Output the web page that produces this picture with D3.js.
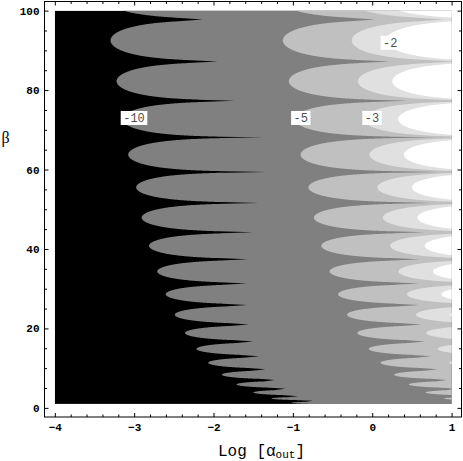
<!DOCTYPE html>
<html><head><meta charset="utf-8">
<script src="https://cdn.jsdelivr.net/npm/d3@7"></script>
<style>body{margin:0;background:#fff}</style>
</head><body><svg id="c" width="463" height="461"></svg>
<script>
// β positions of the spikes (zeros between lobes), ascending
const zerosBeta = [0.8, 1.76, 2.95, 4.8, 7.0, 9.7, 13.0, 16.7, 21.0, 25.9, 31.3, 37.4, 44.2, 51.6, 59.4, 68.1, 77.3, 87.2, 97.8, 108.9];
// Log[α] where each spike of the -10 contour ends
const spikeReach = [-0.6, -0.748, -0.933, -1.092, -1.227, -1.344, -1.425, -1.501, -1.555, -1.576, -1.580, -1.567, -1.504, -1.429, -1.328, -1.378, -1.731, -1.946, -2.135, -2.3];
// Log[α] of the leftmost tip of each lobe of the -10 contour (lobe i between zeros i and i+1)
const lobeTip = [-1.017, -1.269, -1.498, -1.710, -1.895, -2.067, -2.215, -2.359, -2.488, -2.602, -2.709, -2.813, -2.906, -2.975, -3.075, -3.149, -3.222, -3.298, -3.370];
const levels = [-10, -5, -3, -2];
const levelFills = ["#808080", "#c0c0c0", "#e0e0e0", "#ffffff"];
const belowFill = "#000000";
const labelText = ["-10", "-5", "-3", "-2"];
const labelX = [-3.002, -0.900, -0.003, 0.228];
const labelBeta = [72.98, 72.98, 72.98, 91.93];
const xTicks = [-4, -3, -2, -1, 0, 1];
const yTicks = [0, 20, 40, 60, 80, 100];
const dataX = [-4, 1];
const dataBeta = [1, 100];

const svg = d3.select("#c");
const x = d3.scaleLinear([-4.13, 1.125], [44.5, 461.5]);
const y = d3.scaleLinear([-2.3, 102.3], [417, 1.5]);

svg.append("defs").append("clipPath").attr("id", "dc").append("rect")
  .attr("x", x(dataX[0])).attr("y", y(dataBeta[1]))
  .attr("width", x(dataX[1]) - x(dataX[0])).attr("height", y(dataBeta[0]) - y(dataBeta[1]));

const plot = svg.append("g").attr("clip-path", "url(#dc)");
plot.append("rect")
  .attr("x", x(dataX[0])).attr("y", y(dataBeta[1]))
  .attr("width", x(dataX[1]) - x(dataX[0])).attr("height", y(dataBeta[0]) - y(dataBeta[1]))
  .attr("fill", belowFill);

function boundary(shift) {
  const pts = [];
  const N = 400;
  for (let i = 0; i < lobeTip.length; i++) {
    const z0 = zerosBeta[i], z1 = zerosBeta[i + 1];
    const mid = (z0 + z1) / 2, half = (z1 - z0) / 2;
    for (let j = 0; j <= N; j++) {
      const t = -Math.cos(Math.PI * j / N);
      const c = Math.cos(Math.PI * t / 2);
      const xv = c > 1e-12 ? lobeTip[i] - Math.log10(c) : Infinity;
      const cap = t < 0 ? spikeReach[i] : spikeReach[i + 1];
      const zEnd = t < 0 ? z0 : z1;
      const taper = 0.3 * Math.max(0, cap - lobeTip[i]);
      if (xv > cap - taper) pts.push([cap + shift, zEnd]);
      else pts.push([xv + shift, mid + t * half]);
    }
  }
  pts.push([dataX[1] + 1, zerosBeta[zerosBeta.length - 1]]);
  pts.push([dataX[1] + 1, zerosBeta[0]]);
  return pts;
}
const line = d3.line().x(p => x(Math.min(p[0], dataX[1] + 1))).y(p => y(p[1]));
levels.forEach((lv, k) => {
  const shift = (lv - levels[0]) / Math.LN10;
  plot.append("path").attr("d", line(boundary(shift)) + "Z").attr("fill", levelFills[k]);
});

// contour labels
const lab = svg.append("g").attr("font-family", "'Liberation Mono', 'Courier New', monospace").attr("font-size", 12);
labelText.forEach((t, i) => {
  const g = lab.append("g");
  const tx = g.append("text").attr("x", x(labelX[i])).attr("y", y(labelBeta[i]))
    .attr("text-anchor", "middle").attr("dy", "0.35em").attr("fill", "#505050").text(t);
  const bb = tx.node().getBBox();
  g.insert("rect", "text").attr("x", bb.x - 2.5).attr("y", y(labelBeta[i]) - 7)
    .attr("width", bb.width + 5).attr("height", 14).attr("fill", "#fff");
});

// frame
svg.append("rect").attr("x", 44.5).attr("y", 1.5).attr("width", 417).attr("height", 415.5)
  .attr("fill", "none").attr("stroke", "#000").attr("stroke-width", 1);

const fmt = d => d3.format("d")(d);
const xMinor = d3.range(-4, 1.0001, 0.2).filter(v => Math.abs(v - Math.round(v)) > 1e-6);
const yMinor = d3.range(0, 100.001, 5).filter(v => v % 20 !== 0);
const tickFont = "'Liberation Mono', 'Courier New', monospace";

function styleAxis(g) {
  g.select(".domain").remove();
  g.selectAll("line").attr("stroke", "#000");
  g.selectAll("text").attr("font-family", tickFont).attr("font-weight", "bold").attr("font-size", 11).attr("fill", "#000");
}
svg.append("g").attr("transform", "translate(0,417)")
  .call(d3.axisBottom(x).tickValues(xTicks).tickFormat(fmt).tickSize(-4).tickPadding(6)).call(styleAxis);
svg.append("g").attr("transform", "translate(0,417)")
  .call(d3.axisBottom(x).tickValues(xMinor).tickFormat("").tickSize(-2.5)).call(styleAxis);
svg.append("g").attr("transform", "translate(0,1.5)")
  .call(d3.axisTop(x).tickValues(xTicks).tickFormat("").tickSize(-4)).call(styleAxis);
svg.append("g").attr("transform", "translate(0,1.5)")
  .call(d3.axisTop(x).tickValues(xMinor).tickFormat("").tickSize(-2.5)).call(styleAxis);
svg.append("g").attr("transform", "translate(44.5,0)")
  .call(d3.axisLeft(y).tickValues(yTicks).tickFormat(fmt).tickSize(-4).tickPadding(5)).call(styleAxis);
svg.append("g").attr("transform", "translate(44.5,0)")
  .call(d3.axisLeft(y).tickValues(yMinor).tickFormat("").tickSize(-2.5)).call(styleAxis);
svg.append("g").attr("transform", "translate(461.5,0)")
  .call(d3.axisRight(y).tickValues(yTicks).tickFormat("").tickSize(-4)).call(styleAxis);
svg.append("g").attr("transform", "translate(461.5,0)")
  .call(d3.axisRight(y).tickValues(yMinor).tickFormat("").tickSize(-2.5)).call(styleAxis);

// axis titles
const xt = svg.append("text").attr("x", 218).attr("y", 455.5)
  .attr("font-family", tickFont).attr("font-size", 16).attr("fill", "#000");
xt.append("tspan").text("Log [α");
xt.append("tspan").attr("font-size", 11).attr("dy", 2.5).text("out");
xt.append("tspan").attr("dy", -2.5).text("]");
svg.append("text").attr("x", 1.5).attr("y", 143)
  .attr("font-family", "'Liberation Serif', 'Times New Roman', serif").attr("font-size", 16).attr("fill", "#000").text("β");
</script>
</body></html>
